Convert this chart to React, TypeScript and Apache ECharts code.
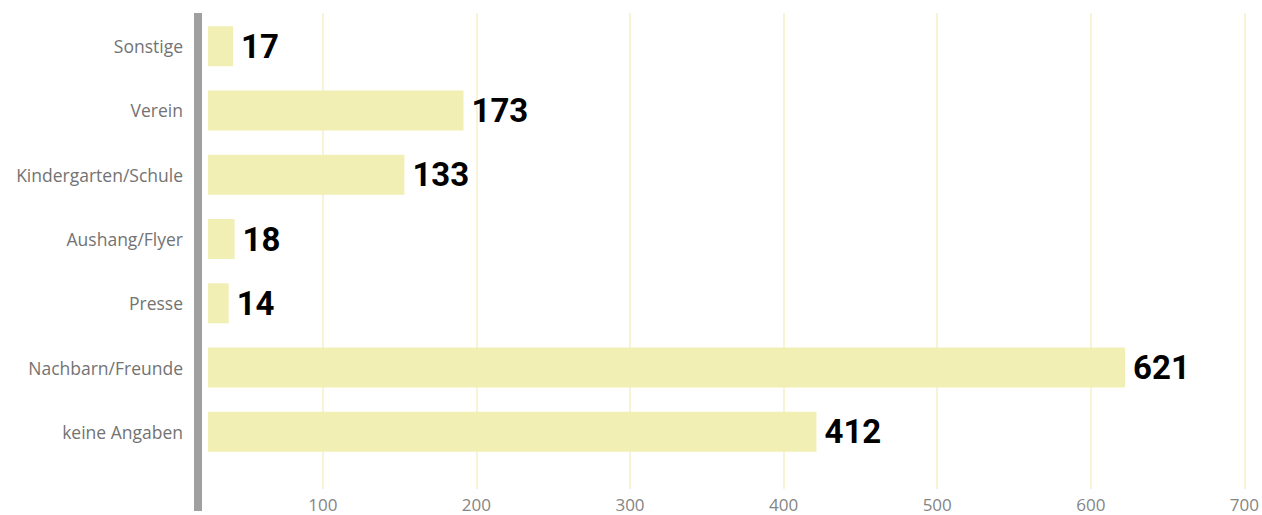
import React, { useEffect, useRef } from "react";
import * as echarts from "echarts";

const categories = [
  "Sonstige",
  "Verein",
  "Kindergarten/Schule",
  "Aushang/Flyer",
  "Presse",
  "Nachbarn/Freunde",
  "keine Angaben",
];
const values = [17, 173, 133, 18, 14, 621, 412];
const tickLabels = [100, 200, 300, 400, 500, 600, 700];

export default function App() {
  const ref = useRef<HTMLDivElement>(null);
  useEffect(() => {
    document.body.style.margin = "0";
    const chart = echarts.init(ref.current!, undefined, { renderer: "svg" });
    const labelFont = "'Open Sans', 'Noto Sans', sans-serif";
    chart.setOption({
      animation: false,
      backgroundColor: "#ffffff",
      grid: [
        { left: 198, right: 0, top: 14, height: 450, containLabel: false },
        { left: 198, right: 0, top: 13, bottom: 26, containLabel: false },
        { left: 198, width: 1, top: 13, bottom: 4, containLabel: false },
      ],
      xAxis: [
        {
          gridIndex: 0,
          type: "value",
          min: -6.77,
          max: 713.7,
          show: false,
          splitLine: { show: false },
        },
        {
          gridIndex: 1,
          type: "value",
          min: 18.75,
          max: 706.6,
          splitNumber: 7,
          axisLine: { show: false },
          axisTick: { show: false },
          splitLine: {
            show: true,
            showMinLine: false,
            showMaxLine: false,
            lineStyle: { color: "#f3f1c6", width: 1.5 },
          },
          axisLabel: {
            showMinLabel: false,
            showMaxLabel: false,
            margin: 6,
            lineHeight: 18,
            color: "#858585",
            fontSize: 17,
            fontFamily: labelFont,
            formatter: (v: number) =>
              tickLabels.indexOf(Math.round(v)) >= 0 && Math.abs(v - Math.round(v)) < 1e-6
                ? String(Math.round(v))
                : "",
          },
        },
        { gridIndex: 2, type: "value", show: false },
      ],
      yAxis: [
        {
          gridIndex: 0,
          type: "category",
          data: categories,
          inverse: true,
          axisLine: { show: false },
          axisTick: { show: false },
          axisLabel: {
            margin: 15,
            color: "#737373",
            fontSize: 17.5,
            fontFamily: labelFont,
          },
        },
        { gridIndex: 1, type: "category", show: false, data: categories },
        {
          gridIndex: 2,
          type: "value",
          axisLine: {
            show: true,
            lineStyle: { color: "#a0a0a0", width: 8, cap: "butt" },
          },
          axisTick: { show: false },
          axisLabel: { show: false },
          splitLine: { show: false },
        },
      ],
      series: [
        {
          type: "bar",
          xAxisIndex: 0,
          yAxisIndex: 0,
          data: values,
          barWidth: 40,
          itemStyle: { color: "#f1efb4" },
          label: {
            show: true,
            position: "right",
            distance: 8,
            color: "#000000",
            fontSize: 33,
            fontWeight: "bold",
            fontFamily: "Roboto, sans-serif",
          },
        },
      ],
    });
    return () => chart.dispose();
  }, []);
  return (
    <div
      ref={ref}
      style={{ position: "fixed", left: 0, top: 0, width: 1262, height: 515 }}
    />
  );
}
